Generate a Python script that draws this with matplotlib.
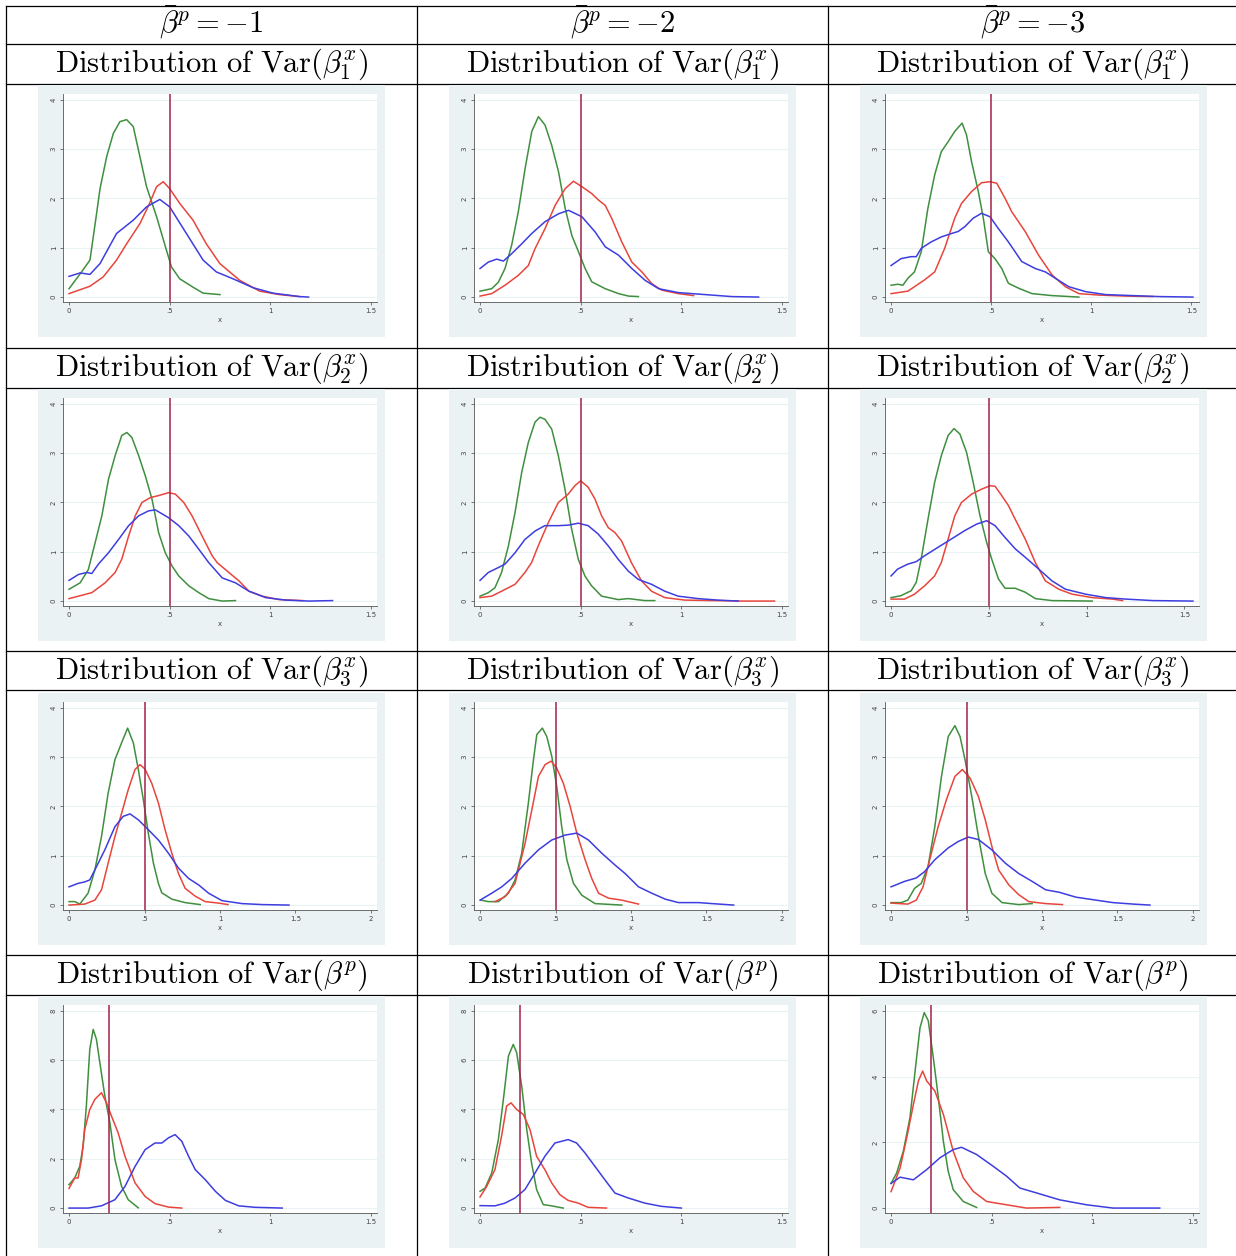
import numpy as np
import matplotlib
matplotlib.use("Agg")
import matplotlib.pyplot as plt
from matplotlib.lines import Line2D
from matplotlib.patches import Rectangle

plt.rcParams['mathtext.fontset'] = 'cm'

# ---- table text ----
col_heads = [r"$\bar{\beta}^p = -1$", r"$\bar{\beta}^p = -2$", r"$\bar{\beta}^p = -3$"]
row_heads = [r"$\mathrm{Distribution\ of\ Var}(\beta_1^x)$",
             r"$\mathrm{Distribution\ of\ Var}(\beta_2^x)$",
             r"$\mathrm{Distribution\ of\ Var}(\beta_3^x)$",
             r"$\mathrm{Distribution\ of\ Var}(\beta^p)$"]

# true value marked by the vertical line, one per row
true_value = [0.5, 0.5, 0.5, 0.2]

# axis ticks
xticks_short = [0, 0.5, 1, 1.5]
xticks_long = [0, 0.5, 1, 1.5, 2]
xtick_labels = ["0", ".5", "1", "1.5", "2"]
yticks_var = [0, 1, 2, 3, 4]
yticks_p = [0, 2, 4, 6, 8]
yticks_p3 = [0, 2, 4, 6]

# ---- density curves (x, density) ----
r1c1_green = [(0,0.17),(0.055,0.47),(0.104,0.75),(0.137,1.7),(0.154,2.2),(0.187,2.85),(0.22,3.32),(0.253,3.56),(0.286,3.6),(0.319,3.46),(0.352,2.85),(0.385,2.24),(0.435,1.63),(0.484,0.95),(0.509,0.61),(0.55,0.37),(0.616,0.2),(0.666,0.08),(0.75,0.05)]
r1c1_red = [(0,0.07),(0.104,0.22),(0.17,0.41),(0.236,0.75),(0.286,1.08),(0.352,1.49),(0.4,1.9),(0.435,2.24),(0.468,2.34),(0.5,2.2),(0.55,1.9),(0.616,1.56),(0.682,1.08),(0.749,0.68),(0.848,0.34),(0.947,0.12),(1.046,0.05),(1.145,0.01)]
r1c1_blue = [(0,0.42),(0.055,0.49),(0.104,0.46),(0.154,0.68),(0.236,1.29),(0.319,1.56),(0.385,1.83),(0.451,1.98),(0.5,1.83),(0.583,1.29),(0.666,0.75),(0.732,0.51),(0.815,0.37),(0.914,0.19),(1.013,0.08),(1.145,0.01),(1.19,0.0)]

r1c2_green = [(0,0.12),(0.058,0.17),(0.091,0.3),(0.124,0.58),(0.157,1.05),(0.19,1.73),(0.224,2.61),(0.257,3.36),(0.29,3.66),(0.323,3.49),(0.356,3.08),(0.39,2.54),(0.423,1.8),(0.456,1.25),(0.489,0.92),(0.522,0.58),(0.555,0.31),(0.622,0.17),(0.688,0.07),(0.738,0.02),(0.787,0.01)]
r1c2_red = [(0,0.02),(0.058,0.07),(0.124,0.24),(0.19,0.44),(0.24,0.64),(0.273,0.98),(0.323,1.39),(0.373,1.86),(0.423,2.2),(0.464,2.35),(0.506,2.24),(0.555,2.1),(0.588,1.97),(0.622,1.86),(0.655,1.59),(0.704,1.12),(0.754,0.71),(0.804,0.51),(0.854,0.27),(0.903,0.14),(0.986,0.07),(1.061,0.03)]
r1c2_blue = [(0,0.58),(0.041,0.71),(0.083,0.77),(0.116,0.73),(0.157,0.88),(0.207,1.08),(0.257,1.29),(0.323,1.53),(0.39,1.69),(0.44,1.76),(0.506,1.63),(0.572,1.32),(0.622,1.02),(0.688,0.85),(0.754,0.58),(0.82,0.34),(0.887,0.17),(0.986,0.09),(1.119,0.05),(1.251,0.01),(1.384,0.0)]

r1c3_green = [(0,0.24),(0.034,0.26),(0.059,0.24),(0.084,0.38),(0.117,0.51),(0.151,0.92),(0.184,1.8),(0.218,2.48),(0.251,2.95),(0.285,3.15),(0.318,3.36),(0.355,3.53),(0.377,3.29),(0.402,2.75),(0.436,2.14),(0.461,1.6),(0.486,0.92),(0.519,0.78),(0.553,0.58),(0.586,0.28),(0.637,0.18),(0.704,0.07),(0.804,0.03),(0.938,0.0)]
r1c3_red = [(0,0.07),(0.084,0.12),(0.168,0.35),(0.218,0.51),(0.268,0.99),(0.318,1.6),(0.352,1.9),(0.402,2.14),(0.452,2.32),(0.494,2.34),(0.528,2.31),(0.57,2.0),(0.603,1.73),(0.67,1.33),(0.737,0.85),(0.804,0.45),(0.871,0.21),(0.938,0.07),(1.039,0.04),(1.173,0.02),(1.307,0.01)]
r1c3_blue = [(0,0.64),(0.05,0.78),(0.1,0.82),(0.126,0.82),(0.151,0.99),(0.201,1.12),(0.251,1.22),(0.302,1.29),(0.335,1.33),(0.369,1.43),(0.41,1.6),(0.452,1.7),(0.494,1.63),(0.536,1.39),(0.586,1.12),(0.653,0.72),(0.72,0.58),(0.771,0.51),(0.821,0.38),(0.888,0.21),(0.972,0.11),(1.072,0.05),(1.206,0.03),(1.34,0.01),(1.508,0.0)]

r2c1_green = [(0,0.24),(0.055,0.37),(0.096,0.64),(0.13,1.19),(0.163,1.73),(0.196,2.47),(0.229,2.95),(0.262,3.36),(0.287,3.42),(0.312,3.32),(0.346,2.95),(0.379,2.54),(0.412,2.07),(0.445,1.39),(0.478,0.98),(0.512,0.71),(0.545,0.51),(0.595,0.31),(0.645,0.17),(0.694,0.05),(0.761,0.0),(0.827,0.01)]
r2c1_red = [(0,0.05),(0.047,0.1),(0.113,0.17),(0.179,0.37),(0.229,0.58),(0.262,0.85),(0.296,1.32),(0.329,1.73),(0.362,2.0),(0.404,2.1),(0.445,2.14),(0.495,2.2),(0.528,2.17),(0.57,2.0),(0.611,1.73),(0.661,1.32),(0.711,0.92),(0.736,0.78),(0.794,0.58),(0.844,0.41),(0.894,0.2),(0.96,0.1),(1.043,0.03),(1.16,0.01)]
r2c1_blue = [(0,0.42),(0.047,0.54),(0.088,0.58),(0.113,0.56),(0.146,0.75),(0.196,0.98),(0.246,1.25),(0.296,1.53),(0.346,1.73),(0.395,1.83),(0.429,1.85),(0.495,1.69),(0.545,1.53),(0.595,1.32),(0.645,1.05),(0.694,0.78),(0.761,0.47),(0.827,0.37),(0.894,0.2),(0.977,0.07),(1.076,0.02),(1.193,0.0),(1.309,0.01)]

r2c2_green = [(0,0.1),(0.041,0.17),(0.074,0.27),(0.107,0.58),(0.141,1.12),(0.174,1.8),(0.207,2.61),(0.24,3.22),(0.273,3.63),(0.298,3.73),(0.322,3.69),(0.356,3.49),(0.389,2.95),(0.422,2.27),(0.455,1.46),(0.488,0.85),(0.521,0.51),(0.554,0.31),(0.604,0.1),(0.686,0.03),(0.736,0.05),(0.819,0.01),(0.868,0.01)]
r2c2_red = [(0,0.07),(0.058,0.1),(0.107,0.2),(0.174,0.34),(0.223,0.58),(0.256,0.78),(0.289,1.12),(0.339,1.59),(0.389,2.0),(0.438,2.17),(0.471,2.34),(0.5,2.44),(0.537,2.31),(0.571,2.07),(0.604,1.73),(0.637,1.49),(0.67,1.39),(0.703,1.22),(0.752,0.78),(0.802,0.41),(0.852,0.2),(0.918,0.07),(1.017,0.02),(1.149,0.01),(1.315,0.0),(1.463,0.0)]
r2c2_blue = [(0,0.42),(0.041,0.58),(0.091,0.68),(0.124,0.75),(0.174,0.98),(0.223,1.25),(0.273,1.42),(0.322,1.53),(0.389,1.53),(0.438,1.54),(0.488,1.58),(0.537,1.53),(0.587,1.36),(0.637,1.12),(0.686,0.85),(0.736,0.61),(0.786,0.44),(0.852,0.34),(0.918,0.2),(0.984,0.1),(1.083,0.05),(1.182,0.02),(1.282,0.0)]

r2c3_green = [(0,0.07),(0.051,0.11),(0.103,0.21),(0.129,0.38),(0.154,0.85),(0.189,1.66),(0.223,2.41),(0.257,2.95),(0.292,3.36),(0.322,3.5),(0.352,3.39),(0.386,3.02),(0.42,2.41),(0.455,1.73),(0.489,1.19),(0.515,0.85),(0.549,0.45),(0.583,0.26),(0.635,0.26),(0.686,0.18),(0.738,0.05),(0.823,0.01),(1.029,0.0)]
r2c3_red = [(0,0.04),(0.069,0.04),(0.12,0.14),(0.172,0.31),(0.223,0.51),(0.257,0.78),(0.292,1.26),(0.326,1.73),(0.36,2.0),(0.412,2.17),(0.463,2.27),(0.506,2.34),(0.532,2.33),(0.566,2.14),(0.6,1.94),(0.635,1.66),(0.686,1.26),(0.738,0.78),(0.789,0.41),(0.858,0.24),(0.926,0.14),(1.029,0.07),(1.132,0.04),(1.184,0.01)]
r2c3_blue = [(0,0.51),(0.034,0.65),(0.086,0.75),(0.129,0.8),(0.172,0.92),(0.24,1.09),(0.309,1.26),(0.377,1.43),(0.437,1.56),(0.489,1.63),(0.532,1.53),(0.583,1.29),(0.635,1.06),(0.686,0.89),(0.755,0.65),(0.823,0.41),(0.892,0.24),(0.995,0.14),(1.098,0.07),(1.201,0.04),(1.338,0.01),(1.544,0.0)]

r3c1_green = [(0,0.07),(0.038,0.07),(0.071,0.02),(0.126,0.24),(0.171,0.71),(0.215,1.39),(0.259,2.27),(0.304,2.95),(0.348,3.29),(0.388,3.59),(0.426,3.29),(0.459,2.75),(0.492,2.14),(0.525,1.46),(0.559,0.85),(0.592,0.44),(0.614,0.25),(0.681,0.12),(0.769,0.05),(0.869,0.01)]
r3c1_red = [(0,0.0),(0.104,0.02),(0.171,0.1),(0.215,0.31),(0.259,0.85),(0.304,1.39),(0.348,1.86),(0.392,2.34),(0.437,2.75),(0.47,2.85),(0.503,2.76),(0.548,2.47),(0.592,2.07),(0.636,1.53),(0.681,1.05),(0.725,0.64),(0.769,0.34),(0.836,0.18),(0.902,0.07),(0.991,0.04),(1.053,0.01)]
r3c1_blue = [(0,0.37),(0.06,0.44),(0.104,0.47),(0.137,0.51),(0.182,0.78),(0.237,1.12),(0.304,1.59),(0.359,1.8),(0.404,1.85),(0.459,1.73),(0.525,1.53),(0.592,1.32),(0.659,1.05),(0.725,0.75),(0.792,0.54),(0.858,0.41),(0.925,0.24),(1.013,0.09),(1.146,0.03),(1.279,0.01),(1.457,0.0)]

r3c2_green = [(0.007,0.1),(0.055,0.07),(0.122,0.07),(0.188,0.24),(0.232,0.51),(0.276,1.05),(0.32,2.07),(0.354,2.95),(0.376,3.46),(0.413,3.59),(0.442,3.42),(0.475,3.02),(0.508,2.41),(0.541,1.59),(0.575,0.92),(0.619,0.44),(0.674,0.2),(0.762,0.03),(0.939,0.0)]
r3c2_red = [(0.099,0.07),(0.166,0.17),(0.232,0.44),(0.298,1.25),(0.343,1.93),(0.387,2.61),(0.431,2.85),(0.471,2.92),(0.508,2.78),(0.552,2.47),(0.597,2.0),(0.641,1.46),(0.696,0.92),(0.74,0.54),(0.785,0.24),(0.851,0.14),(0.939,0.1),(1.05,0.02)]
r3c2_blue = [(0,0.1),(0.077,0.24),(0.144,0.37),(0.21,0.54),(0.298,0.85),(0.387,1.12),(0.475,1.32),(0.564,1.42),(0.641,1.46),(0.718,1.32),(0.807,1.05),(0.895,0.81),(0.961,0.64),(1.05,0.37),(1.138,0.24),(1.227,0.12),(1.315,0.05),(1.448,0.05),(1.536,0.03),(1.68,0.0)]

r3c3_green = [(0,0.05),(0.067,0.05),(0.111,0.1),(0.156,0.34),(0.2,0.44),(0.245,0.78),(0.29,1.59),(0.334,2.61),(0.379,3.42),(0.423,3.64),(0.457,3.42),(0.49,2.95),(0.535,2.2),(0.579,1.39),(0.624,0.64),(0.668,0.24),(0.735,0.05),(0.846,0.01),(0.935,0.03)]
r3c3_red = [(0,0.04),(0.111,0.02),(0.167,0.1),(0.212,0.37),(0.256,0.92),(0.312,1.59),(0.367,2.14),(0.423,2.61),(0.472,2.75),(0.523,2.58),(0.579,2.2),(0.624,1.73),(0.668,1.19),(0.713,0.71),(0.78,0.41),(0.846,0.21),(0.913,0.07),(1.024,0.03),(1.136,0.01)]
r3c3_blue = [(0,0.37),(0.089,0.48),(0.167,0.55),(0.223,0.68),(0.29,0.92),(0.379,1.16),(0.445,1.29),(0.512,1.38),(0.579,1.33),(0.668,1.12),(0.757,0.85),(0.846,0.64),(0.935,0.48),(1.024,0.31),(1.114,0.26),(1.225,0.16),(1.336,0.11),(1.47,0.05),(1.604,0.02),(1.715,0.0)]

r4c1_green = [(0,0.95),(0.028,1.22),(0.053,1.69),(0.07,2.51),(0.086,4.14),(0.103,6.44),(0.12,7.25),(0.136,6.85),(0.153,5.9),(0.178,4.54),(0.203,3.46),(0.228,1.97),(0.261,0.88),(0.294,0.34),(0.344,0.01)]
r4c1_red = [(0,0.8),(0.028,1.22),(0.045,1.22),(0.062,1.97),(0.078,3.19),(0.103,4.0),(0.128,4.41),(0.161,4.68),(0.186,4.27),(0.211,3.73),(0.244,3.05),(0.278,2.1),(0.328,1.02),(0.378,0.47),(0.427,0.18),(0.494,0.04),(0.56,0.0)]
r4c1_blue = [(0,0.0),(0.095,0.0),(0.161,0.09),(0.228,0.34),(0.278,0.88),(0.328,1.69),(0.378,2.37),(0.427,2.64),(0.461,2.64),(0.494,2.85),(0.527,2.98),(0.56,2.71),(0.594,2.1),(0.627,1.56),(0.677,1.15),(0.727,0.68),(0.777,0.31),(0.843,0.09),(0.926,0.03),(1.059,0.0)]

r4c2_green = [(0,0.68),(0.025,0.81),(0.058,1.42),(0.091,2.78),(0.116,4.41),(0.141,6.17),(0.165,6.64),(0.182,6.31),(0.207,4.95),(0.232,3.19),(0.256,1.83),(0.281,0.75),(0.314,0.14),(0.356,0.09),(0.413,0.0)]
r4c2_red = [(0,0.45),(0.033,0.88),(0.074,1.56),(0.107,2.92),(0.132,4.14),(0.154,4.27),(0.182,4.0),(0.215,3.8),(0.248,3.19),(0.281,2.1),(0.322,1.56),(0.356,1.02),(0.397,0.54),(0.438,0.31),(0.488,0.2),(0.537,0.03),(0.628,0.0)]
r4c2_blue = [(0,0.1),(0.074,0.09),(0.124,0.2),(0.174,0.41),(0.223,0.75),(0.273,1.42),(0.322,2.1),(0.372,2.64),(0.405,2.71),(0.438,2.78),(0.48,2.64),(0.521,2.24),(0.571,1.69),(0.62,1.15),(0.67,0.61),(0.736,0.41),(0.819,0.2),(0.901,0.07),(1.0,0.0)]

r4c3_green = [(0,0.75),(0.028,1.07),(0.061,1.73),(0.094,2.75),(0.127,4.58),(0.144,5.49),(0.165,5.95),(0.185,5.7),(0.21,4.58),(0.235,3.36),(0.26,2.03),(0.284,1.12),(0.309,0.56),(0.359,0.2),(0.425,0.02)]
r4c3_red = [(0,0.5),(0.045,1.22),(0.078,2.14),(0.111,3.15),(0.136,3.87),(0.157,4.17),(0.177,3.87),(0.218,3.56),(0.26,2.85),(0.309,1.73),(0.359,0.92),(0.408,0.51),(0.475,0.2),(0.574,0.1),(0.673,0.0),(0.838,0.02)]
r4c3_blue = [(0,0.75),(0.045,0.94),(0.111,0.86),(0.177,1.17),(0.243,1.53),(0.309,1.78),(0.35,1.85),(0.425,1.63),(0.508,1.27),(0.574,0.97),(0.64,0.61),(0.723,0.46),(0.838,0.25),(0.971,0.1),(1.103,0.0),(1.335,0.0)]

panels = [
    [(r1c1_green, r1c1_red, r1c1_blue), (r1c2_green, r1c2_red, r1c2_blue), (r1c3_green, r1c3_red, r1c3_blue)],
    [(r2c1_green, r2c1_red, r2c1_blue), (r2c2_green, r2c2_red, r2c2_blue), (r2c3_green, r2c3_red, r2c3_blue)],
    [(r3c1_green, r3c1_red, r3c1_blue), (r3c2_green, r3c2_red, r3c2_blue), (r3c3_green, r3c3_red, r3c3_blue)],
    [(r4c1_green, r4c1_red, r4c1_blue), (r4c2_green, r4c2_red, r4c2_blue), (r4c3_green, r4c3_red, r4c3_blue)],
]
row_xticks = [xticks_short, xticks_short, xticks_long, xticks_short]
panel_yticks = [[yticks_var] * 3, [yticks_var] * 3, [yticks_var] * 3, [yticks_p, yticks_p, yticks_p3]]

# ---- layout (pixels) ----
W, H = 1236, 1256
hlines = [6, 44, 84, 348, 388, 651, 690, 955, 995]
vlines = [6, 417, 828]
col_centers = [211.5, 622.5, 1033]
head_base = 33
row_head_base = [72, 376, 679, 983]
img_left = [38, 449, 860]
img_top = [85, 389, 693, 996]
img_w, img_h = 347, 252

line_colors = ["#3f8f3f", "#e8453c", "#3d3de0"]
truth_color = "#a3214a"
region_color = "#eaf2f3"


def fx(px):
    return px / W


def fy(py):
    return 1 - py / H


def draw_panel(ax, curves, xticks, yticks, vx):
    xmax = max(xticks[-1], max(max(p[0] for p in c) for c in curves))
    ytop = yticks[-1]
    for c, col in zip(curves, line_colors):
        arr = np.array(c)
        ax.plot(arr[:, 0], arr[:, 1], color=col, lw=1.1, zorder=3,
                solid_joinstyle="round")
    ax.axvline(vx, color=truth_color, lw=1.1, zorder=4)
    ax.set_xlim(-0.02 * xmax, xmax * 1.02)
    ax.set_ylim(-0.025 * ytop, ytop * 1.03)
    ax.set_xticks(xticks)
    ax.set_xticklabels(xtick_labels[:len(xticks)])
    ax.set_yticks(yticks)
    ax.set_yticklabels([str(v) for v in yticks], rotation=90, va="center")
    ax.yaxis.grid(True, color=region_color, lw=0.8)
    ax.set_axisbelow(True)
    for s in ["top", "right"]:
        ax.spines[s].set_visible(False)
    for s in ["left", "bottom"]:
        ax.spines[s].set_color("#555555")
        ax.spines[s].set_linewidth(0.6)
    ax.tick_params(length=2.5, width=0.5, labelsize=5, pad=2, colors="#444444")
    ax.set_xlabel("x", fontsize=5, labelpad=2, color="#444444")


def main():
    fig = plt.figure(figsize=(W / 100, H / 100), dpi=100)

    # table rules, drawn under the graph images
    for y in hlines:
        fig.add_artist(Line2D([fx(6), fx(W)], [fy(y), fy(y)], color="black", lw=0.9, zorder=-2))
    for x in vlines:
        fig.add_artist(Line2D([fx(x), fx(x)], [fy(6), fy(H)], color="black", lw=0.9, zorder=-2))

    for c, lab in enumerate(col_heads):
        fig.text(fx(col_centers[c]), fy(head_base), lab, fontsize=22, ha="center", va="baseline")

    for r in range(4):
        for c in range(3):
            fig.text(fx(col_centers[c]), fy(row_head_base[r]), row_heads[r],
                     fontsize=22, ha="center", va="baseline")
            x0, y0 = img_left[c], img_top[r]
            fig.add_artist(Rectangle((fx(x0), fy(y0 + img_h)), img_w / W, img_h / H,
                                     facecolor=region_color, edgecolor="none", zorder=-1))
            ax = fig.add_axes([fx(x0 + 25), fy(y0 + 217), 314 / W, 208 / H])
            draw_panel(ax, panels[r][c], row_xticks[r], panel_yticks[r][c], true_value[r])

    fig.savefig("out.png", dpi=100)


if __name__ == "__main__":
    main()
